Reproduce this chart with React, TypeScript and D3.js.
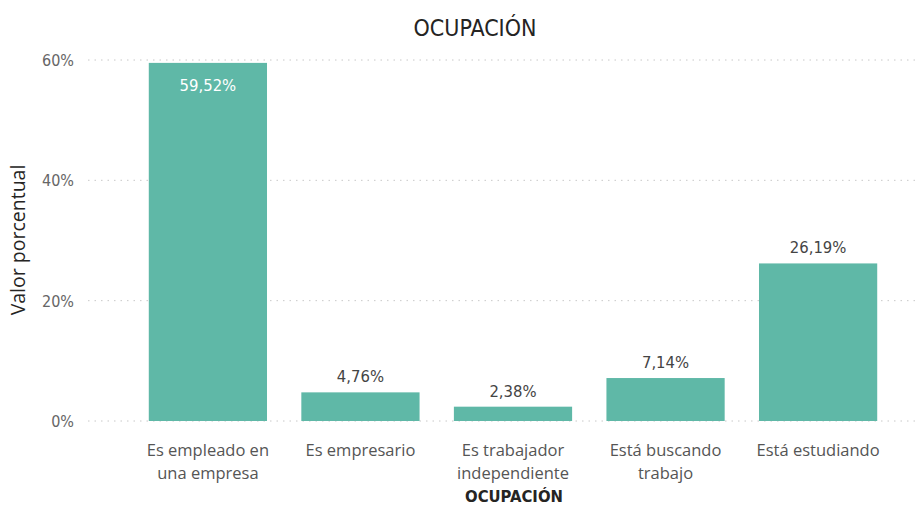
import React from 'react';
import * as d3 from 'd3';

const categories = [
  ['Es empleado en', 'una empresa'],
  ['Es empresario'],
  ['Es trabajador', 'independiente'],
  ['Está buscando', 'trabajo'],
  ['Está estudiando'],
];
const values = [59.52, 4.76, 2.38, 7.14, 26.19];
const yTicks = [0, 20, 40, 60];

const W = 922;
const H = 506;
const barColor = '#5fb8a7';
const numFont = '"DejaVu Sans Condensed", "DejaVu Sans", sans-serif';
const textFont = '"Open Sans", "Noto Sans", sans-serif';

const fmt = (v: number) => v.toFixed(2).replace('.', ',') + '%';

export default function App() {
  const x = d3
    .scaleBand<number>()
    .domain(d3.range(values.length))
    .range([132, 894])
    .paddingInner(0.225)
    .paddingOuter(0.11);
  const y = d3.scaleLinear().domain([0, 60]).range([421, 60]);

  return (
    <svg
      width={W}
      height={H}
      style={{ position: 'absolute', left: 0, top: 0, background: '#fff' }}
    >
      <text
        x={475}
        y={36}
        textAnchor="middle"
        fontFamily={numFont}
        fontSize={23}
        fill="#252423"
      >
        OCUPACIÓN
      </text>

      {yTicks.map((t) => (
        <g key={t}>
          <line
            x1={88}
            x2={920}
            y1={y(t)}
            y2={y(t)}
            stroke="#c8c8c8"
            strokeWidth={1}
            strokeDasharray="1.5 5"
          />
          <text
            x={74}
            y={y(t) + 6}
            textAnchor="end"
            fontFamily={numFont}
            fontSize={16}
            fill="#666"
          >
            {t}%
          </text>
        </g>
      ))}

      <text
        transform={`translate(25, 240) rotate(-90)`}
        textAnchor="middle"
        fontFamily={textFont}
        fontSize={19.5}
        fill="#252423"
      >
        Valor porcentual
      </text>

      {values.map((v, i) => {
        const bx = x(i)!;
        const bw = x.bandwidth();
        const top = y(v);
        const inside = v > 50;
        return (
          <g key={i}>
            <rect x={bx} y={top} width={bw} height={y(0) - top} fill={barColor} />
            <text
              x={bx + bw / 2}
              y={inside ? top + 28 : top - 10}
              textAnchor="middle"
              fontFamily={numFont}
              fontSize={16.5}
              fill={inside ? '#fff' : '#444'}
            >
              {fmt(v)}
            </text>
            {categories[i].map((line, j) => (
              <text
                key={j}
                x={bx + bw / 2}
                y={456 + j * 23}
                textAnchor="middle"
                fontFamily={textFont}
                fontSize={16.5}
                fill="#555"
              >
                {line}
              </text>
            ))}
          </g>
        );
      })}

      <text
        x={514}
        y={502}
        textAnchor="middle"
        fontFamily={numFont}
        fontSize={16.5}
        fontWeight="bold"
        fill="#252423"
      >
        OCUPACIÓN
      </text>
    </svg>
  );
}
